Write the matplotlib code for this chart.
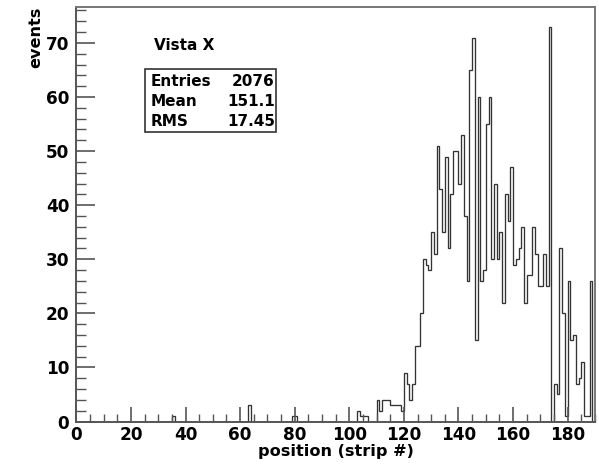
#! /usr/bin/env python3

import matplotlib
matplotlib.use("Agg")
import matplotlib.pyplot as plt
from matplotlib.ticker import MultipleLocator
import numpy as np

# strip position histogram, one bin per strip (0..189)
nbins = 190
xmin, xmax = 0, 190

# non-empty bins: strip -> counts
filled_strips = [35, 63, 79, 80, 103, 104, 105, 106,
                 110, 111, 112, 113, 114, 115, 116, 117, 118, 119,
                 120, 121, 122, 123, 124, 125, 126, 127, 128, 129, 130, 131,
                 132, 133, 134, 135, 136, 137, 138, 139, 140, 141,
                 142, 143, 144, 145, 146, 147, 148, 149, 150, 151,
                 152, 153, 154, 155, 156, 157, 158, 159, 160, 161,
                 162, 163, 164, 165, 166, 167, 168, 169, 170, 171, 172,
                 173, 174, 175, 176, 177, 178, 179, 180, 181, 182, 183,
                 184, 185, 186, 187, 188]
filled_counts = [1, 3, 1, 1, 2, 1, 1, 1,
                 4, 2, 4, 4, 4, 3, 3, 3, 3, 2,
                 9, 7, 4, 7, 14, 14, 20, 30, 29, 28, 35, 31,
                 51, 43, 35, 49, 32, 42, 50, 50, 44, 53,
                 38, 26, 65, 71, 15, 60, 26, 28, 55, 60,
                 30, 44, 30, 35, 22, 42, 37, 47, 29, 30,
                 32, 36, 22, 27, 27, 36, 31, 25, 25, 31, 25,
                 73, 0, 7, 5, 32, 20, 1, 26, 15, 16, 7,
                 8, 11, 1, 1, 26]

title = "Vista X"
stats = [("Entries", "2076"), ("Mean", "151.1"), ("RMS", "17.45")]


def mkplot():
    plt.rcParams['font.family'] = ['DejaVu Sans']
    plt.rcParams['font.weight'] = 'bold'

    counts = np.zeros(nbins)
    counts[filled_strips] = filled_counts
    edges = np.linspace(xmin, xmax, nbins + 1)

    fig = plt.figure(figsize=(5.99, 4.65), dpi=100)
    ax = fig.add_axes([0.1274, 0.0935, 0.8659, 0.8915])

    ax.stairs(counts, edges, color='#333333', lw=0.95)

    ax.set_xlim(xmin, xmax)
    ax.set_ylim(0, 1.05 * counts.max())

    for s in ax.spines.values():
        s.set_color('#777777')
        s.set_linewidth(1.4)
    ax.spines['left'].set_color('#555555')
    ax.spines['bottom'].set_color('#555555')

    ax.xaxis.set_major_locator(MultipleLocator(20))
    ax.xaxis.set_minor_locator(MultipleLocator(5))
    ax.yaxis.set_major_locator(MultipleLocator(10))
    ax.yaxis.set_minor_locator(MultipleLocator(2))
    ax.tick_params(which='both', direction='in', top=False, right=False,
                   colors='#555555', labelcolor='black', labelsize=12.2)
    ax.tick_params(axis='y', which='major', length=14, width=1.2, pad=5)
    ax.tick_params(axis='y', which='minor', length=7, width=1.0)
    ax.tick_params(axis='x', which='major', length=11, width=1.2, pad=3)
    ax.tick_params(axis='x', which='minor', length=6, width=1.0)
    for lab in ax.get_xticklabels() + ax.get_yticklabels():
        lab.set_fontweight('bold')

    ax.set_xlabel("position (strip #)", fontsize=11.6, fontweight='bold',
                  labelpad=0)
    ax.set_ylabel("events", fontsize=11.6, fontweight='bold',
                  loc='top', labelpad=2)

    # title and stats box
    fig.text(0.257, 0.903, title, fontsize=11, fontweight='bold',
             ha='left', va='center')
    box = plt.Rectangle((0.2420, 0.716), 0.2195, 0.135, transform=fig.transFigure,
                        fill=False, edgecolor='#333333', lw=1.2)
    fig.patches.append(box)
    for i, (name, val) in enumerate(stats):
        yy = 0.824 - i * 0.0428
        fig.text(0.252, yy, name, fontsize=11, fontweight='bold',
                 ha='left', va='center')
        fig.text(0.459, yy, val, fontsize=11, fontweight='bold',
                 ha='right', va='center')

    fig.savefig("out.png", dpi=100)


if __name__ == "__main__":
    mkplot()
